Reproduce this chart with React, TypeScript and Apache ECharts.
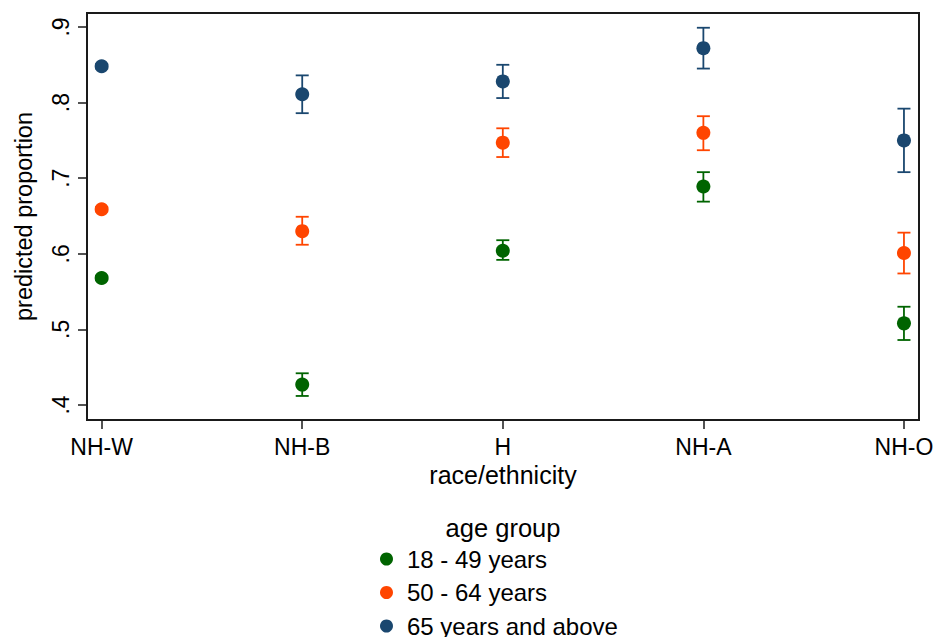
import React, { useEffect, useRef } from "react";
import * as echarts from "echarts";

const categories = ["NH-W", "NH-B", "H", "NH-A", "NH-O"];
const categoryPositions = [1, 2, 3, 4, 5];
const yTickValues = [0.4, 0.5, 0.6, 0.7, 0.8, 0.9];

const seriesNames = ["18 - 49 years", "50 - 64 years", "65 years and above"];
const seriesColors = ["#006400", "#ff4500", "#1a476f"];

const est18 = [0.568, 0.427, 0.604, 0.689, 0.508];
const lo18 = [0.565, 0.412, 0.592, 0.669, 0.486];
const hi18 = [0.571, 0.442, 0.618, 0.708, 0.53];

const est50 = [0.659, 0.63, 0.747, 0.76, 0.601];
const lo50 = [0.656, 0.612, 0.728, 0.737, 0.574];
const hi50 = [0.662, 0.649, 0.766, 0.782, 0.628];

const est65 = [0.848, 0.811, 0.828, 0.872, 0.75];
const lo65 = [0.845, 0.786, 0.806, 0.845, 0.708];
const hi65 = [0.851, 0.836, 0.85, 0.899, 0.792];

const estimates = [est18, est50, est65];
const lows = [lo18, lo50, lo65];
const highs = [hi18, hi50, hi65];

const FONT = '"Liberation Sans", Arial, sans-serif';

export default function App() {
  const ref = useRef<HTMLDivElement>(null);

  useEffect(() => {
    document.body.style.margin = "0";
    if (!ref.current) return;
    const chart = echarts.init(ref.current, undefined, { renderer: "svg" });

    const series: any[] = [];
    seriesNames.forEach((name, si) => {
      series.push({
        name: name + " CI",
        type: "custom",
        z: 2,
        silent: true,
        data: categoryPositions.map((p, i) => [p, lows[si][i], highs[si][i]]),
        renderItem: (params: any, api: any) => {
          const x = api.value(0);
          const lo = api.coord([x, api.value(1)]);
          const hi = api.coord([x, api.value(2)]);
          const hw = 6.5;
          const style = { stroke: seriesColors[si], lineWidth: 1.8, fill: "none" };
          return {
            type: "group",
            children: [
              { type: "line", shape: { x1: lo[0], y1: lo[1], x2: hi[0], y2: hi[1] }, style },
              { type: "line", shape: { x1: lo[0] - hw, y1: lo[1], x2: lo[0] + hw, y2: lo[1] }, style },
              { type: "line", shape: { x1: hi[0] - hw, y1: hi[1], x2: hi[0] + hw, y2: hi[1] }, style },
            ],
          };
        },
      });
    });
    seriesNames.forEach((name, si) => {
      series.push({
        name,
        type: "scatter",
        z: 3,
        symbol: "circle",
        symbolSize: 14,
        itemStyle: { color: seriesColors[si], opacity: 1 },
        data: categoryPositions.map((p, i) => [p, estimates[si][i]]),
      });
    });

    chart.setOption({
      animation: false,
      backgroundColor: "#ffffff",
      textStyle: { fontFamily: FONT, color: "#000" },
      grid: {
        left: 87,
        right: 14,
        top: 13,
        bottom: 217,
        show: true,
        borderColor: "#1a1a1a",
        borderWidth: 2,
        outerBoundsMode: "none",
        containLabel: false,
      },
      xAxis: {
        type: "value",
        min: 0.927,
        max: 5.075,
        name: "race/ethnicity",
        nameLocation: "middle",
        nameGap: 35,
        nameTextStyle: { fontSize: 25, color: "#000", fontFamily: FONT },
        splitLine: { show: false },
        axisLine: { show: true, onZero: false, lineStyle: { color: "#1a1a1a", width: 2 } },
        axisTick: {
          show: true,
          customValues: categoryPositions,
          length: 9,
          lineStyle: { color: "#1a1a1a", width: 1.5 },
        },
        axisLabel: {
          customValues: categoryPositions,
          formatter: (v: number) => categories[Math.round(v) - 1] ?? "",
          fontSize: 23,
          color: "#000",
          fontFamily: FONT,
          margin: 15,
        },
      },
      yAxis: {
        type: "value",
        min: 0.3802,
        max: 0.9185,
        name: "predicted proportion",
        nameLocation: "middle",
        nameRotate: 90,
        nameGap: 51,
        nameTextStyle: { fontSize: 23.5, color: "#000", fontFamily: FONT },
        splitLine: { show: false },
        axisLine: { show: true, onZero: false, lineStyle: { color: "#1a1a1a", width: 2 } },
        axisTick: {
          show: true,
          customValues: yTickValues,
          length: 9,
          lineStyle: { color: "#1a1a1a", width: 1.5 },
        },
        axisLabel: {
          customValues: yTickValues,
          formatter: (v: number) => "." + Math.round(v * 10),
          rotate: 90,
          fontSize: 23,
          color: "#000",
          fontFamily: FONT,
          margin: 15,
        },
      },
      legend: {
        data: seriesNames,
        orient: "vertical",
        left: 380,
        top: 547,
        height: 120,
        padding: 0,
        icon: "circle",
        itemWidth: 13,
        itemHeight: 13,
        itemGap: 9.5,
        selectedMode: false,
        textStyle: {
          fontSize: 24,
          lineHeight: 22,
          color: "#000",
          fontFamily: FONT,
          padding: [0, 0, 0, 9],
        },
      },
      graphic: [
        {
          type: "text",
          x: 503,
          y: 528,
          style: {
            text: "age group",
            fontSize: 25.5,
            fontFamily: FONT,
            fill: "#000",
            textAlign: "center",
            textVerticalAlign: "middle",
          },
        },
      ],
      series,
    });

    return () => chart.dispose();
  }, []);

  return (
    <div
      ref={ref}
      style={{ width: 933, height: 637, position: "absolute", left: 0, top: 0 }}
    />
  );
}
